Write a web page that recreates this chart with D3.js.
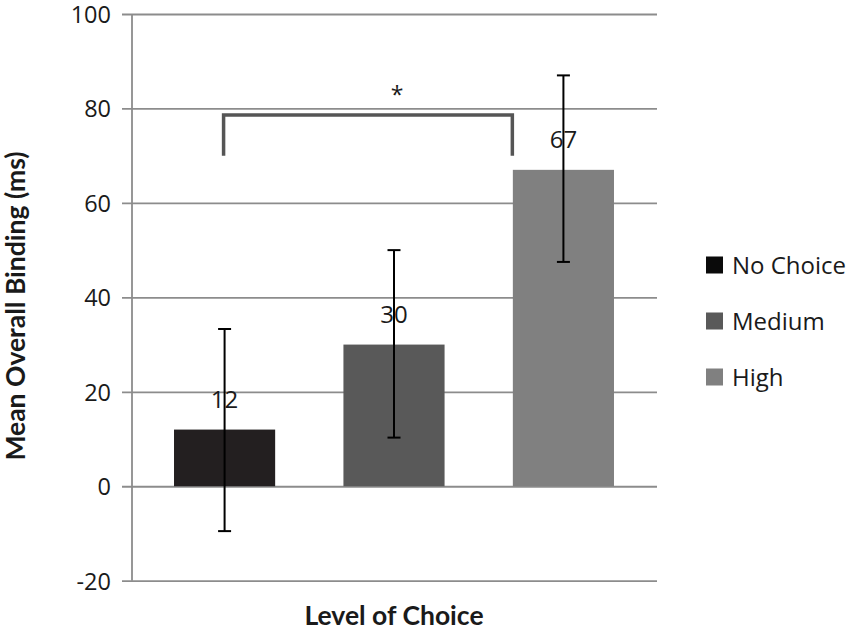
<!DOCTYPE html>
<html>
<head>
<meta charset="utf-8">
<script src="https://cdn.jsdelivr.net/npm/d3@7"></script>
<style>
  body { margin: 0; background: #fff; }
  svg { display: block; }
</style>
</head>
<body>
<svg id="chart"></svg>
<script>
// data
const categories = ['No Choice', 'Medium', 'High'];
const means = [12, 30, 67];
const errLow = [-9.5, 10.3, 47.5];
const errHigh = [33.3, 50, 87];
const barColors = ['#231f20', '#595959', '#808080'];
const legendColors = ['#0a0a0a', '#595959', '#808080'];
const yTicks = [-20, 0, 20, 40, 60, 80, 100];
// significance bracket between No Choice and High
const bracket = { from: 'No Choice', to: 'High', top: 78.6, bottom: 70, label: '*' };

const width = 850, height = 631;
const svg = d3.select('#chart')
    .attr('width', width)
    .attr('height', height);

const x = d3.scaleBand()
    .domain(categories)
    .range([132, 656])
    .paddingInner(0.403)
    .paddingOuter(0.248);

const y = d3.scaleLinear()
    .domain([-20, 100])
    .range([580.7, 14]);

const numFont = '"Open Sans", sans-serif';
const boldFont = 'Lato, "Open Sans", sans-serif';

// gridlines + y axis
const yAxis = d3.axisLeft(y)
    .tickValues(yTicks)
    .tickSize(-(657 - 122))
    .tickPadding(11)
    .tickFormat(d => String(d));

const gy = svg.append('g')
    .attr('transform', 'translate(122,0)')
    .call(yAxis);
gy.select('.domain').remove();
gy.selectAll('.tick line')
    .attr('stroke', '#8c8c8c')
    .attr('stroke-width', 1.8);
gy.selectAll('.tick text')
    .attr('fill', '#1a1a1a')
    .attr('dy', '0.36em')
    .style('font-family', numFont)
    .style('font-size', '23.5px');

// vertical axis line
svg.append('line')
    .attr('x1', 132).attr('x2', 132)
    .attr('y1', y(100)).attr('y2', y(-20))
    .attr('stroke', '#8c8c8c')
    .attr('stroke-width', 1.8);

// bars
svg.selectAll('rect.bar')
    .data(categories)
    .join('rect')
    .attr('class', 'bar')
    .attr('x', d => x(d))
    .attr('width', x.bandwidth())
    .attr('y', (d, i) => y(Math.max(0, means[i])))
    .attr('height', (d, i) => Math.abs(y(means[i]) - y(0)))
    .attr('fill', (d, i) => barColors[i]);

// data labels
svg.selectAll('text.val')
    .data(categories)
    .join('text')
    .attr('class', 'val')
    .attr('x', d => x(d) + x.bandwidth() / 2)
    .attr('y', (d, i) => y(means[i]) - 22)
    .attr('text-anchor', 'middle')
    .attr('fill', '#1a1a1a')
    .style('font-family', numFont)
    .style('font-size', '24px')
    .text((d, i) => means[i]);

// error bars
const cap = 6.5;
const eb = svg.selectAll('g.err')
    .data(categories)
    .join('g')
    .attr('class', 'err')
    .attr('stroke', '#000')
    .attr('stroke-width', 2);
eb.append('line')
    .attr('x1', d => x(d) + x.bandwidth() / 2)
    .attr('x2', d => x(d) + x.bandwidth() / 2)
    .attr('y1', (d, i) => y(errHigh[i]))
    .attr('y2', (d, i) => y(errLow[i]));
eb.append('line')
    .attr('x1', d => x(d) + x.bandwidth() / 2 - cap)
    .attr('x2', d => x(d) + x.bandwidth() / 2 + cap)
    .attr('y1', (d, i) => y(errHigh[i]))
    .attr('y2', (d, i) => y(errHigh[i]));
eb.append('line')
    .attr('x1', d => x(d) + x.bandwidth() / 2 - cap)
    .attr('x2', d => x(d) + x.bandwidth() / 2 + cap)
    .attr('y1', (d, i) => y(errLow[i]))
    .attr('y2', (d, i) => y(errLow[i]));

// significance bracket
const bx1 = x(bracket.from) + x.bandwidth() / 2 - 1;
const bx2 = x(bracket.to) - 0.5;
svg.append('path')
    .attr('d', d3.line()([
        [bx1, y(bracket.bottom)],
        [bx1, y(bracket.top)],
        [bx2, y(bracket.top)],
        [bx2, y(bracket.bottom)]
    ]))
    .attr('fill', 'none')
    .attr('stroke', '#555')
    .attr('stroke-width', 3.5);
svg.append('text')
    .attr('x', (bx1 + bx2) / 2 + 29)
    .attr('y', y(bracket.top) - 12)
    .attr('text-anchor', 'middle')
    .attr('fill', '#1a1a1a')
    .style('font-family', numFont)
    .style('font-size', '23px')
    .text(bracket.label);

// axis titles
svg.append('text')
    .attr('x', x('Medium') + x.bandwidth() / 2)
    .attr('y', 625)
    .attr('text-anchor', 'middle')
    .attr('fill', '#1a1a1a')
    .style('font-family', boldFont)
    .style('font-weight', 'bold')
    .style('font-size', '26.5px')
    .text('Level of Choice');

svg.append('text')
    .attr('transform', 'translate(25,306) rotate(-90)')
    .attr('text-anchor', 'middle')
    .attr('fill', '#1a1a1a')
    .style('font-family', boldFont)
    .style('font-weight', 'bold')
    .style('font-size', '26.5px')
    .text('Mean Overall Binding (ms)');

// legend
const legend = svg.selectAll('g.legend')
    .data(categories)
    .join('g')
    .attr('class', 'legend')
    .attr('transform', (d, i) => 'translate(706,' + (265 + i * 56) + ')');
legend.append('rect')
    .attr('x', 0).attr('y', -8.5)
    .attr('width', 17).attr('height', 17)
    .attr('fill', (d, i) => legendColors[i]);
legend.append('text')
    .attr('x', 26)
    .attr('y', 9)
    .attr('fill', '#1a1a1a')
    .style('font-family', numFont)
    .style('font-size', '24px')
    .text(d => d);
</script>
</body>
</html>
